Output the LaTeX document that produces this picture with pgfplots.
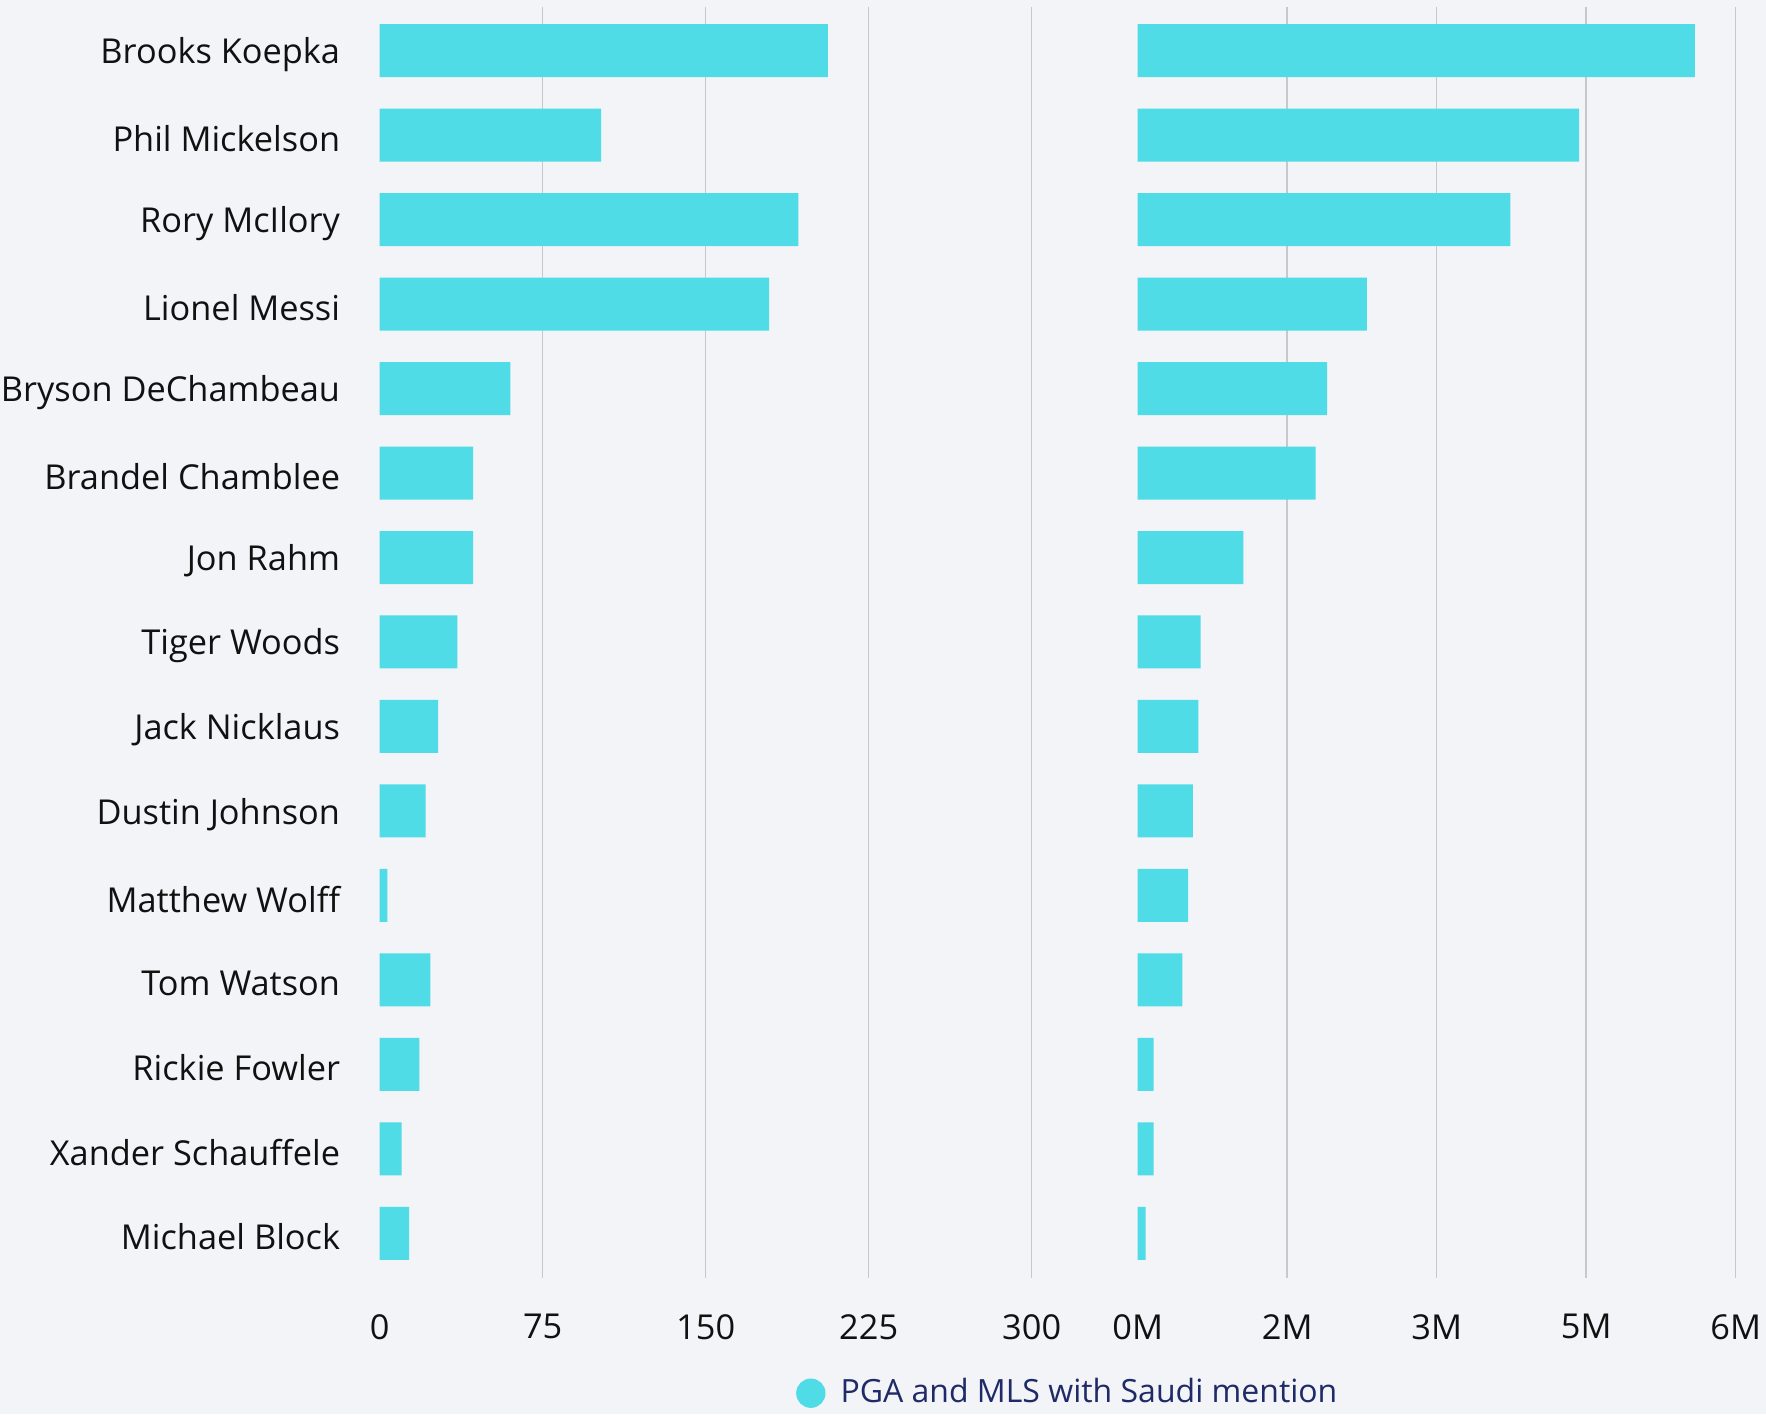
\documentclass[border=0pt]{standalone}
\usepackage{pgfplots}
\pgfplotsset{compat=1.18}
\usepackage{fontspec}
\setmainfont{Open Sans}
\definecolor{barc}{HTML}{4FDCE6}
\definecolor{bg}{HTML}{F2F4F8}
\definecolor{gridc}{HTML}{C6C8CD}
\definecolor{legc}{HTML}{1F2A66}
\definecolor{txt}{HTML}{111111}
\begin{document}
\begin{tikzpicture}[font=\fontsize{10.3}{12}\selectfont]
\fill[bg] (0,0) rectangle (529.8pt,424.2pt);
\useasboundingbox (0,0) rectangle (529.8pt,424.2pt);
\pgfplotsset{common/.style={
  scale only axis, height=381.3pt, xbar, bar width=15.9pt, bar shift=0pt,
  y dir=reverse, ymin=-0.517, ymax=14.53,
  axis line style={draw=none}, major tick length=0pt,
  xmajorgrids, grid style={gridc, line width=0.45pt},
  tick label style={font=\fontsize{10.3}{12}\selectfont, text=txt},
  xticklabel style={yshift=-7.3pt},
  extra x tick style={grid=none},
}}
\begin{axis}[common, at={(113.9pt,40.8pt)}, anchor=south west, width=195.6pt,
  xmin=0, xmax=300, xtick={75,150,225,300}, xticklabels={75,150,225,300},
  extra x ticks={0}, extra x tick labels={0},
  ytick={0,...,14},
  yticklabels={Brooks Koepka,Phil Mickelson,Rory McIlory,Lionel Messi,Bryson DeChambeau,Brandel Chamblee,Jon Rahm,Tiger Woods,Jack Nicklaus,Dustin Johnson,Matthew Wolff,Tom Watson,Rickie Fowler,Xander Schauffele,Michael Block},
  yticklabel style={xshift=-8.35pt, yshift=-1.1pt}]
\addplot[fill=barc, draw=none] coordinates {
(206.2,0) (101.9,1) (192.7,2) (179.2,3) (60.1,4) (43.0,5) (43.0,6) (35.7,7) (26.9,8) (21.2,9) (3.5,10) (23.3,11) (18.3,12) (10.1,13) (13.6,14)};
\end{axis}
\begin{axis}[common, at={(341.3pt,40.8pt)}, anchor=south west, width=179.4pt,
  xmin=0, xmax=6, xtick={1.5,3,4.5,6}, xticklabels={2M,3M,5M,6M},
  extra x ticks={0}, extra x tick labels={0M},
  ytick=\empty,
  legend style={at={(-0.113,-0.0906)}, anchor=center, draw=none, fill=none,
    font=\fontsize{9.6}{11}\selectfont, text=legc, inner sep=0pt},
  legend cell align=left]
\addplot[fill=barc, draw=none, forget plot] coordinates {
(5.59,0) (4.43,1) (3.74,2) (2.30,3) (1.90,4) (1.785,5) (1.06,6) (0.632,7) (0.61,8) (0.554,9) (0.506,10) (0.449,11) (0.16,12) (0.16,13) (0.08,14)};
\addlegendimage{legend image code/.code={\fill[barc] (-1.9pt,0pt) circle (4.2pt); \path (4.8pt,0pt);}}
\addlegendentry{PGA and MLS with Saudi mention}
\end{axis}
\end{tikzpicture}
\end{document}
